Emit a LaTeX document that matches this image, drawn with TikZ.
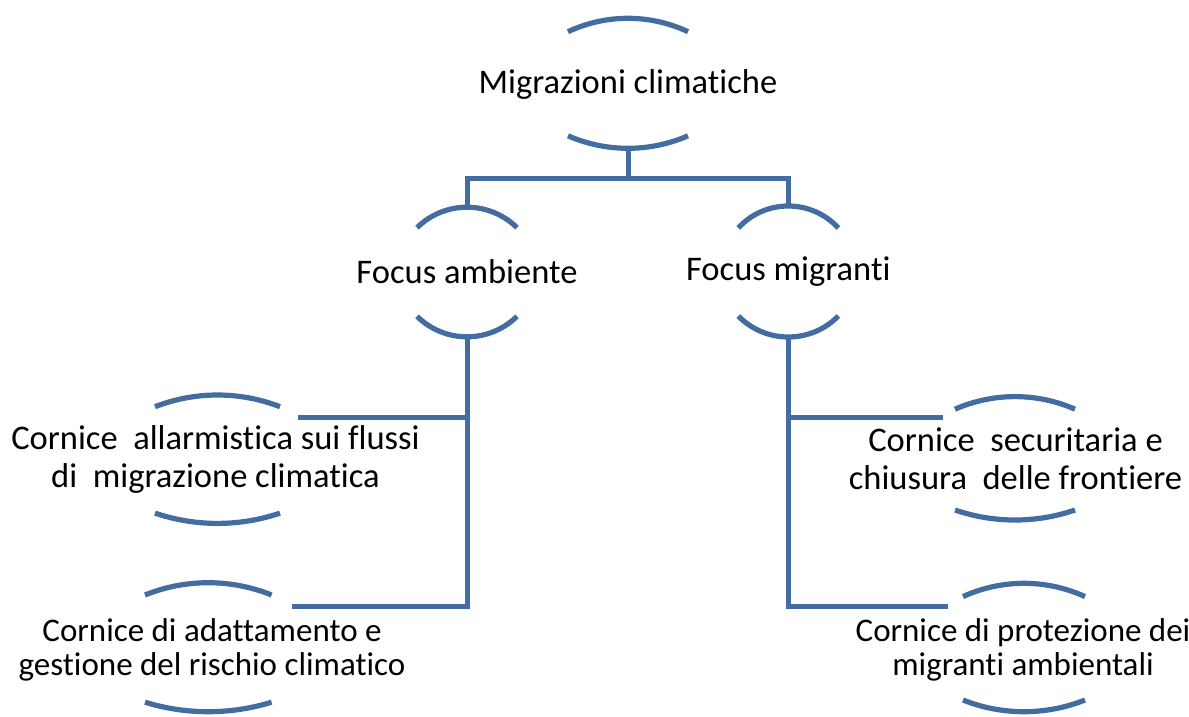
\documentclass[tikz,border=0pt]{standalone}
\usepackage{fontspec}
\setmainfont{Carlito}[Ligatures={NoCommon,NoContextual}]
\usetikzlibrary{calc}
\definecolor{arcblue}{RGB}{67,108,160}
\newcommand{\arcpair}[6]{% cx, cy, hw, hh, sag top, sag bottom
  \pgfmathsetmacro\thT{2*atan(#5/#3)}%
  \pgfmathsetmacro\kT{4/3*(#5/#3)*#3/sin(\thT)}%
  \pgfmathsetmacro\dxT{\kT*cos(\thT)}%
  \pgfmathsetmacro\dyT{\kT*sin(\thT)}%
  \pgfmathsetmacro\thB{2*atan(#6/#3)}%
  \pgfmathsetmacro\kB{4/3*(#6/#3)*#3/sin(\thB)}%
  \pgfmathsetmacro\dxB{\kB*cos(\thB)}%
  \pgfmathsetmacro\dyB{\kB*sin(\thB)}%
  \draw[arcline] (#1-#3,#2-#4+#5) .. controls (#1-#3+\dxT,#2-#4+#5-\dyT) and (#1+#3-\dxT,#2-#4+#5-\dyT) .. (#1+#3,#2-#4+#5);
  \draw[arcline] (#1-#3,#2+#4-#6) .. controls (#1-#3+\dxB,#2+#4-#6+\dyB) and (#1+#3-\dxB,#2+#4-#6+\dyB) .. (#1+#3,#2+#4-#6);
}
\tikzset{
  arcline/.style={draw=arcblue, line width=5.2pt},
  conn/.style={draw=arcblue, line width=5pt},
  lbl/.style={inner sep=0pt, outer sep=0pt, align=center, text=black},
  bigtxt/.style={font=\fontsize{34.5}{38}\selectfont},
  smalltxt/.style={font=\fontsize{33}{34.5}\selectfont},
}
\begin{document}
\begin{tikzpicture}[x=1pt,y=-1pt]
\useasboundingbox (0,0) rectangle (1189,716);
% arcs
\arcpair{628}{83.3}{60}{65}{13.4}{12.5}
\arcpair{467}{272}{50}{64.8}{20.5}{20.5}
\arcpair{788.3}{271.5}{50}{65.5}{22}{21}
\arcpair{217.5}{459.2}{62.5}{64.2}{11.7}{10.3}
\arcpair{1015}{458.3}{60}{61.7}{12.6}{10}
\arcpair{208.3}{647.2}{63.3}{64.5}{12.3}{9.5}
\arcpair{1024}{647.5}{61}{64.2}{13.3}{11.7}
% nodes
\node[lbl,bigtxt,minimum height=130pt] (top) at (628,84.5) {Migrazioni climatiche};
\node[lbl,bigtxt,minimum height=129.6pt] (fa) at (467,272) {Focus ambiente};
\node[lbl,bigtxt,minimum height=131pt] (fm) at (788.3,271.5) {Focus migranti};
\node[lbl,bigtxt] (l1) at (215.5,459.2) {Cornice\ \ allarmistica sui flussi\\di\ \ migrazione climatica};
\node[lbl,bigtxt] (r1) at (1015.5,458.3) {Cornice\ \ securitaria e\\chiusura\ \ delle frontiere};
\node[lbl,smalltxt] (l2) at (212,650) {Cornice di adattamento e\\gestione del rischio climatico};
\node[lbl,smalltxt] (r2) at (1023,650) {Cornice di protezione dei\\migranti ambientali};
% connector end points
\coordinate (bar) at (628,178);
\coordinate (l1c) at (298,417);
\coordinate (l2c) at (292,606);
\coordinate (r1c) at (943,417);
\coordinate (r2c) at (948,606);
% connectors
\draw[conn] (top.south) -- (top.south |- bar);
\draw[conn] (fa.north) |- (bar) -| (fm.north);
\draw[conn] (fa.south) |- (l1c);
\draw[conn] (fa.south) |- (l2c);
\draw[conn] (fm.south) |- (r1c);
\draw[conn] (fm.south) |- (r2c);
\end{tikzpicture}
\end{document}
